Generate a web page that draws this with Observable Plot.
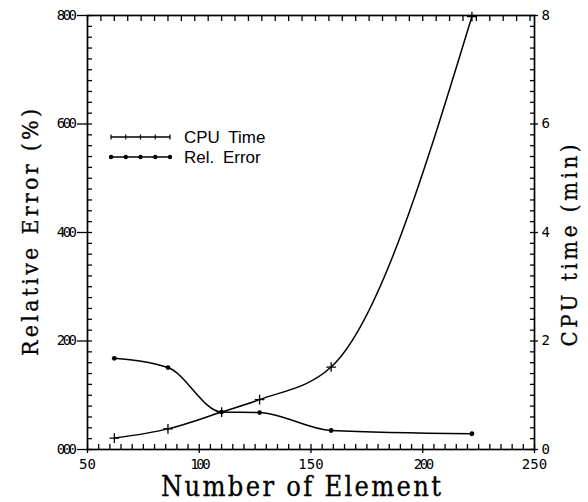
<!DOCTYPE html>
<html><head><meta charset="utf-8">
<script src="https://cdn.jsdelivr.net/npm/d3@7"></script>
<script src="https://cdn.jsdelivr.net/npm/@observablehq/plot@0.6"></script>
<style>
body{margin:0;background:#fff}
#chart{position:relative;width:588px;height:502px}
</style>
</head><body><div id="chart"></div>
<script>
// ---- data ----
const elements = [62, 86, 110, 127, 159, 222];          // Number of Element
const relError = [168, 151, 69, 68, 35, 29];            // Relative Error (%)
const cpuTime  = [0.21, 0.38, 0.69, 0.92, 1.52, 7.98];  // CPU time (min)
const xTickValues = [50, 100, 150, 200, 250];
const leftTickValues = [0, 200, 400, 600, 800];
const rightTickValues = [0, 2, 4, 6, 8];
const legendLabels = ["CPU Time", "Rel. Error"];

const cpuFactor = 100; // right axis 0–8 maps onto left axis 0–800
const rows = elements.map((e, i) => ({e, err: relError[i], cpu: cpuTime[i] * cpuFactor}));

const mono = "'DejaVu Sans Mono', monospace";
const serif = "'DejaVu Serif Condensed', 'DejaVu Serif', 'Liberation Serif', serif";

const plot = Plot.plot({
  width: 588, height: 502,
  marginLeft: 87, marginRight: 54, marginTop: 15, marginBottom: 53,
  x: {domain: [50, 250]},
  y: {domain: [0, 800]},
  style: {background: "#fff", color: "#000", fontFamily: mono, fontSize: "14px"},
  marks: [
    // inward minor ticks
    Plot.axisX({anchor: "bottom", ticks: d3.range(50, 251, 5), tickSize: -5, tickFormat: () => "", label: null, strokeWidth: 1.3}),
    Plot.axisX({anchor: "top", ticks: d3.range(50, 251, 6), tickSize: -5, tickFormat: () => "", label: null, strokeWidth: 1.3}),
    Plot.axisY({anchor: "left", ticks: d3.range(0, 801, 20), tickSize: -5, tickFormat: () => "", label: null, strokeWidth: 1.3}),
    Plot.axisY({anchor: "right", ticks: d3.range(0, 801, 20), tickSize: -5, tickFormat: () => "", label: null, strokeWidth: 1.3}),
    // labelled ticks
    Plot.axisX({anchor: "bottom", ticks: xTickValues, tickSize: 4, tickPadding: 6, tickFormat: d => String(d), label: null, fontSize: 14, strokeWidth: 1.3}),
    Plot.axisY({anchor: "left", ticks: leftTickValues, tickSize: 10, tickPadding: 3, tickFormat: d => d3.format("03d")(d), label: null, fontSize: 14, strokeWidth: 1.3}),
    Plot.axisY({anchor: "right", ticks: rightTickValues.map(v => v * cpuFactor), tickSize: 3, tickPadding: 4, tickFormat: d => String(d / cpuFactor), label: null, fontSize: 14, strokeWidth: 1.3}),
    Plot.frame({stroke: "#000", strokeWidth: 1.7}),
    // series
    Plot.line(rows, {x: "e", y: "err", curve: "monotone-x", stroke: "#000", strokeWidth: 1.5}),
    Plot.dot(rows, {x: "e", y: "err", r: 2.4, fill: "#000"}),
    Plot.line(rows, {x: "e", y: "cpu", curve: "monotone-x", stroke: "#000", strokeWidth: 1.5}),
    Plot.dot(rows, {x: "e", y: "cpu", symbol: "plus", r: 3.2, stroke: "#000", strokeWidth: 1.3}),
    // axis titles
    Plot.text(["Number of Element"], {frameAnchor: "bottom", textAnchor: "middle", lineAnchor: "middle", dx: -10, dy: 38, fontSize: 27, fill: "#000"}),
    Plot.text(["Relative Error (%)"], {frameAnchor: "left", textAnchor: "middle", lineAnchor: "middle", dx: -57, rotate: -90, fontSize: 23, fill: "#000"}),
    Plot.text(["CPU time (min)"], {frameAnchor: "right", textAnchor: "middle", lineAnchor: "middle", dx: 35, dy: 13, rotate: -90, fontSize: 22, fill: "#000"})
  ]
});

const svg = d3.select(plot);
const titleLengths = {"Number of Element": 280, "Relative Error (%)": 247, "CPU time (min)": 202};
// remove empty minor-tick labels, font tweaks
svg.selectAll("text").each(function() {
  const t = this.textContent;
  const s = d3.select(this);
  if (t === "") { s.remove(); return; }
  if (titleLengths[t]) {
    s.style("font-family", serif).attr("textLength", titleLengths[t]).attr("lengthAdjust", "spacing")
     .style("stroke", "#000").style("stroke-width", "0.3px");
  }
  if (/^\d00$|^000$/.test(t)) s.style("letter-spacing", "-2.5px");
});

// legend
const lg = svg.append("g").attr("stroke", "#000");
const legendY = [137, 157];
legendLabels.forEach((lab, i) => {
  const y = legendY[i];
  lg.append("line").attr("x1", 111).attr("x2", 170).attr("y1", y).attr("y2", y).attr("stroke-width", 1.3);
  d3.range(111, 171, 14.75).forEach(x => {
    if (i === 0) {
      lg.append("line").attr("x1", x).attr("x2", x).attr("y1", y - 2.5).attr("y2", y + 2.5).attr("stroke-width", 1.2);
    } else {
      lg.append("circle").attr("cx", x).attr("cy", y).attr("r", 2.2).attr("fill", "#000").attr("stroke", "none");
    }
  });
  lg.append("text").attr("x", 184).attr("y", y).attr("dy", "0.35em").attr("stroke", "none").attr("fill", "#000")
    .attr("text-anchor", "start")
    .style("font-family", "'Liberation Sans', Arial, sans-serif").style("font-size", "17px").style("word-spacing", "4px").text(lab);
});

document.getElementById("chart").appendChild(plot);
</script>
</body></html>
